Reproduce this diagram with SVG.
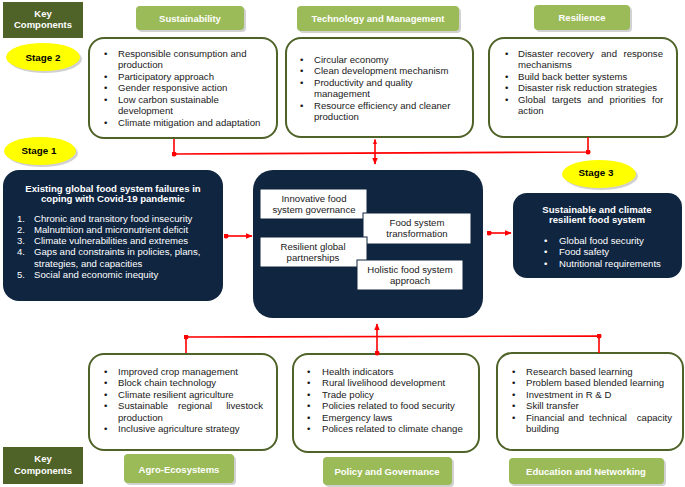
<svg xmlns="http://www.w3.org/2000/svg" width="685" height="487" viewBox="0 0 685 487">
<defs>
<style>
text{font-family:"Liberation Sans",Arial,sans-serif;}
.t{font-size:9.6px;fill:#1a1a1a;}
.w{font-size:9.6px;fill:#ffffff;}
.wb{font-size:9.6px;fill:#ffffff;font-weight:bold;}
.lbl{font-size:9.5px;fill:#ffffff;font-weight:bold;text-anchor:middle;}
.stg{font-size:9.8px;fill:#000;font-weight:bold;text-anchor:middle;}
.kc{fill:#4f6228;}
.gl{fill:#9bbb59;}
.cb{fill:#ffffff;stroke:#4f6228;stroke-width:2;}
.nv{fill:#10253f;}
.wbx{fill:#ffffff;stroke:#10253f;stroke-width:1;}
.ct{font-size:9.6px;fill:#1a1a1a;text-anchor:middle;}
.ell{fill:#ffff00;}
.sh{fill:#000;opacity:0.18;}
.con{stroke:#ff0000;stroke-width:1.6;fill:none;}
.e{text-anchor:end;}
</style>
<marker id="arr" viewBox="0 0 10 10" refX="9" refY="5" markerWidth="5" markerHeight="5" orient="auto-start-reverse" markerUnits="userSpaceOnUse">
<path d="M0,1 L10,5 L0,9 z" fill="#ff0000"/>
</marker>
<marker id="dot" viewBox="0 0 10 10" refX="5" refY="5" markerWidth="5" markerHeight="5" markerUnits="userSpaceOnUse">
<circle cx="5" cy="5" r="5" fill="#ff0000"/>
</marker>
<marker id="arrw" viewBox="0 0 10 10" refX="9" refY="5" markerWidth="7" markerHeight="7" orient="auto-start-reverse" markerUnits="userSpaceOnUse">
<path d="M0,1 L10,5 L0,9 z" fill="#ff0000"/>
</marker>
</defs>
<rect width="685" height="487" fill="#ffffff"/>

<!-- Key components labels -->
<g id="key-top">
<rect class="kc" x="3" y="2" width="80" height="36"/>
<text class="lbl" x="43" y="16.5">Key</text>
<text class="lbl" x="43" y="28">Components</text>
</g>
<g id="key-bottom">
<rect class="kc" x="3" y="447" width="80" height="37"/>
<text class="lbl" x="43" y="461.5">Key</text>
<text class="lbl" x="43" y="473.5">Components</text>
</g>

<!-- Stage ellipses -->
<g id="stage2">
<ellipse class="sh" cx="45" cy="59" rx="37" ry="14"/>
<ellipse class="ell" cx="43" cy="57" rx="37" ry="14"/>
<text class="stg" x="43" y="60.5">Stage 2</text>
</g>
<g id="stage1">
<ellipse class="sh" cx="42" cy="153" rx="36" ry="14"/>
<ellipse class="ell" cx="40" cy="151" rx="36" ry="14"/>
<text class="stg" x="39" y="153.5">Stage 1</text>
</g>
<g id="stage3">
<ellipse class="sh" cx="601" cy="176" rx="37" ry="14"/>
<ellipse class="ell" cx="599" cy="174" rx="37" ry="14"/>
<text class="stg" x="596" y="175.5">Stage 3</text>
</g>

<!-- Top labels -->
<g id="label-sustainability">
<rect class="sh" x="138" y="8" width="108" height="24" rx="4"/>
<rect class="gl" x="136" y="6" width="108" height="24" rx="4"/>
<text class="lbl" x="190" y="21.5">Sustainability</text>
</g>
<g id="label-technology">
<rect class="sh" x="299" y="8" width="162" height="25" rx="4"/>
<rect class="gl" x="297" y="6" width="162" height="25" rx="4"/>
<text class="lbl" x="378" y="22">Technology and Management</text>
</g>
<g id="label-resilience">
<rect class="sh" x="536" y="7" width="96" height="25" rx="4"/>
<rect class="gl" x="534" y="5" width="96" height="25" rx="4"/>
<text class="lbl" x="582" y="21">Resilience</text>
</g>

<!-- Top content boxes -->
<g id="box-sustainability">
<rect class="cb" x="89" y="38" width="188" height="100" rx="15"/>
<g class="t">
<text x="104" y="56.5">•</text><text x="118" y="56.5">Responsible consumption and</text>
<text x="118" y="68">production</text>
<text x="104" y="79.5">•</text><text x="118" y="79.5">Participatory approach</text>
<text x="104" y="91">•</text><text x="118" y="91">Gender responsive action</text>
<text x="104" y="102.5">•</text><text x="118" y="102.5">Low carbon sustainable</text>
<text x="118" y="114">development</text>
<text x="104" y="125.5">•</text><text x="118" y="125.5">Climate mitigation and adaptation</text>
</g>
</g>
<g id="box-technology">
<rect class="cb" x="286" y="38" width="187" height="99" rx="15"/>
<g class="t">
<text x="300" y="62.5">•</text><text x="314" y="62.5">Circular economy</text>
<text x="300" y="74">•</text><text x="314" y="74">Clean development mechanism</text>
<text x="300" y="85.5">•</text><text x="314" y="85.5">Productivity and quality</text>
<text x="314" y="97">management</text>
<text x="300" y="108.5">•</text><text x="314" y="108.5">Resource efficiency and cleaner</text>
<text x="314" y="120">production</text>
</g>
</g>
<g id="box-resilience">
<rect class="cb" x="489" y="38" width="188" height="99" rx="15"/>
<g class="t">
<text x="505" y="56.5">•</text><text x="518" y="56.5">Disaster</text><text x="557" y="56.5">recovery</text><text x="601" y="56.5">and</text><text class="e" x="663" y="56.5">response</text>
<text x="518" y="68">mechanisms</text>
<text x="505" y="79.5">•</text><text x="518" y="79.5">Build back better systems</text>
<text x="505" y="91">•</text><text x="518" y="91">Disaster risk reduction strategies</text>
<text x="505" y="102.5">•</text><text x="518" y="102.5" word-spacing="3.5">Global targets and priorities for</text>
<text x="518" y="114">action</text>
</g>
</g>

<!-- Left dark box -->
<g id="box-failures">
<rect class="nv" x="3" y="170" width="220" height="131" rx="16"/>
<text class="wb" x="113" y="191.5" text-anchor="middle">Existing global food system failures in</text>
<text class="wb" x="113" y="202" text-anchor="middle">coping with Covid-19 pandemic</text>
<g class="w">
<text x="17" y="221.5">1.</text><text x="34" y="221.5">Chronic and transitory food insecurity</text>
<text x="17" y="233">2.</text><text x="34" y="233">Malnutrition and micronutrient deficit</text>
<text x="17" y="244">3.</text><text x="34" y="244">Climate vulnerabilities and extremes</text>
<text x="17" y="255">4.</text><text x="34" y="255">Gaps and constraints in policies, plans,</text>
<text x="34" y="266.5">strategies, and capacities</text>
<text x="17" y="277.5">5.</text><text x="34" y="277.5">Social and economic inequity</text>
</g>
</g>

<!-- Center dark box -->
<g id="box-center">
<rect class="nv" x="253" y="170" width="230" height="148" rx="20"/>
</g>
<g id="inner-governance">
<rect class="wbx" x="260" y="189" width="107" height="30"/>
<text class="ct" x="314" y="201.5">Innovative food</text>
<text class="ct" x="314" y="212.5">system governance</text>
</g>
<g id="inner-transformation">
<rect class="wbx" x="363" y="213" width="108" height="31"/>
<text class="ct" x="417" y="226">Food system</text>
<text class="ct" x="417" y="237">transformation</text>
</g>
<g id="inner-partnerships">
<rect class="wbx" x="260" y="237" width="107" height="30"/>
<text class="ct" x="313" y="250">Resilient global</text>
<text class="ct" x="313" y="261">partnerships</text>
</g>
<g id="inner-holistic">
<rect class="wbx" x="357" y="260" width="106" height="30"/>
<text class="ct" x="410" y="272.5">Holistic food system</text>
<text class="ct" x="410" y="283.5">approach</text>
</g>

<!-- Right dark box -->
<g id="box-outcome">
<rect class="nv" x="513" y="193" width="169" height="85" rx="14"/>
<text class="wb" x="597" y="212.5" text-anchor="middle">Sustainable and climate</text>
<text class="wb" x="597" y="223" text-anchor="middle">resilient food system</text>
<g class="w">
<text x="544" y="243.5">•</text><text x="559" y="243.5">Global food security</text>
<text x="544" y="255">•</text><text x="559" y="255">Food safety</text>
<text x="544" y="266.5">•</text><text x="559" y="266.5">Nutritional requirements</text>
</g>
</g>

<!-- Bottom content boxes -->
<g id="box-agro">
<rect class="cb" x="89" y="354" width="188" height="96" rx="15"/>
<g class="t">
<text x="104" y="374.5">•</text><text x="118" y="374.5">Improved crop management</text>
<text x="104" y="386">•</text><text x="118" y="386">Block chain technology</text>
<text x="104" y="397.5">•</text><text x="118" y="397.5">Climate resilient agriculture</text>
<text x="104" y="409">•</text><text x="118" y="409">Sustainable</text><text x="178" y="409">regional</text><text class="e" x="263" y="409">livestock</text>
<text x="118" y="420.5">production</text>
<text x="104" y="432">•</text><text x="118" y="432">Inclusive agriculture strategy</text>
</g>
</g>
<g id="box-policy">
<rect class="cb" x="293" y="354" width="186" height="98" rx="15"/>
<g class="t">
<text x="307" y="374.5">•</text><text x="322" y="374.5">Health indicators</text>
<text x="307" y="386">•</text><text x="322" y="386">Rural livelihood development</text>
<text x="307" y="397.5">•</text><text x="322" y="397.5">Trade policy</text>
<text x="307" y="409">•</text><text x="322" y="409">Policies related to food security</text>
<text x="307" y="420.5">•</text><text x="322" y="420.5">Emergency laws</text>
<text x="307" y="432">•</text><text x="322" y="432">Polices related to climate change</text>
</g>
</g>
<g id="box-education">
<rect class="cb" x="497" y="353" width="186" height="97" rx="15"/>
<g class="t">
<text x="512" y="374.5">•</text><text x="526" y="374.5">Research based learning</text>
<text x="512" y="386">•</text><text x="526" y="386">Problem based blended learning</text>
<text x="512" y="397.5">•</text><text x="526" y="397.5">Investment in R &amp; D</text>
<text x="512" y="409">•</text><text x="526" y="409">Skill transfer</text>
<text x="512" y="420.5">•</text><text x="526" y="420.5">Financial</text><text x="568" y="420.5">and</text><text x="589" y="420.5">technical</text><text class="e" x="672" y="420.5">capacity</text>
<text x="526" y="432">building</text>
</g>
</g>

<!-- Bottom labels -->
<g id="label-agro">
<rect class="sh" x="126" y="456" width="110" height="29" rx="4"/>
<rect class="gl" x="124" y="454" width="110" height="29" rx="4"/>
<text class="lbl" x="179" y="472.5">Agro-Ecosystems</text>
</g>
<g id="label-policy">
<rect class="sh" x="325" y="459" width="129" height="28" rx="4"/>
<rect class="gl" x="323" y="457" width="129" height="28" rx="4"/>
<text class="lbl" x="387" y="474.5">Policy and Governance</text>
</g>
<g id="label-education">
<rect class="sh" x="511" y="460" width="155" height="26" rx="4"/>
<rect class="gl" x="509" y="458" width="155" height="26" rx="4"/>
<text class="lbl" x="586" y="474.5">Education and Networking</text>
</g>

<!-- Connectors -->
<g id="connectors">
<polyline class="con" points="174,139 174,154 588,152 588,137" marker-mid="url(#dot)"/>
<line class="con" x1="375" y1="139.5" x2="375" y2="164" marker-start="url(#arr)" marker-end="url(#arrw)"/>
<line class="con" x1="226" y1="236" x2="252" y2="236" marker-start="url(#dot)" marker-end="url(#arrw)"/>
<line class="con" x1="489" y1="233" x2="511" y2="233" marker-start="url(#dot)" marker-end="url(#arrw)"/>
<polyline class="con" points="186,353 186,337 599,336 599,353" marker-mid="url(#dot)"/>
<line class="con" x1="377" y1="353" x2="377" y2="324" marker-start="url(#dot)" marker-end="url(#arrw)"/>
</g>
</svg>
